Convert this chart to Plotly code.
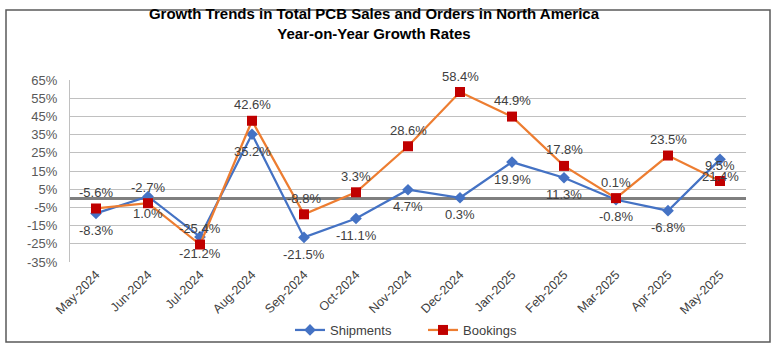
import plotly.graph_objects as go

months = ["May-2024", "Jun-2024", "Jul-2024", "Aug-2024", "Sep-2024", "Oct-2024",
          "Nov-2024", "Dec-2024", "Jan-2025", "Feb-2025", "Mar-2025", "Apr-2025", "May-2025"]
shipments = [-8.3, 1.0, -21.2, 35.2, -21.5, -11.1, 4.7, 0.3, 19.9, 11.3, -0.8, -6.8, 21.4]
bookings = [-5.6, -2.7, -25.4, 42.6, -8.8, 3.3, 28.6, 58.4, 44.9, 17.8, 0.1, 23.5, 9.5]
y_ticks = [-35, -25, -15, -5, 5, 15, 25, 35, 45, 55, 65]
y_tick_labels = [f"{v}%" for v in y_ticks]

W, H = 777, 351
L, R, T, B = 70, 746, 80, 262
pw, ph = R - L, B - T

def px(x):
    return (x - L) / pw

def py(y):
    return (B - y) / ph

fig = go.Figure()
fig.add_trace(go.Scatter(
    x=months, y=shipments, name="Shipments", mode="lines+markers",
    line=dict(color="#4472C4", width=2.25),
    marker=dict(symbol="diamond", size=9, color="#4472C4"),
    cliponaxis=False,
))
fig.add_trace(go.Scatter(
    x=months, y=bookings, name="Bookings", mode="lines+markers",
    line=dict(color="#ED7D31", width=2.25),
    marker=dict(symbol="square", size=10, color="#C00000"),
    cliponaxis=False,
))

lab_font = dict(family="Arial", size=13, color="#404040")
for m, v in zip(months, shipments):
    fig.add_annotation(x=m, y=v, text=f"{v:.1f}%", showarrow=False, yshift=-17,
                       font=lab_font, yanchor="middle")
for m, v in zip(months, bookings):
    fig.add_annotation(x=m, y=v, text=f"{v:.1f}%", showarrow=False, yshift=16,
                       font=lab_font, yanchor="middle")

fig.update_layout(
    width=W, height=H,
    margin=dict(l=L, r=W - R, t=T, b=H - B, autoexpand=False),
    paper_bgcolor="white", plot_bgcolor="white",
    font=dict(family="Arial", size=12, color="#595959"),
    title=dict(
        text="<b>Growth Trends in Total PCB Sales and Orders in North America<br>Year-on-Year Growth Rates</b>",
        x=374 / W, xanchor="center", y=1 - 19 / H, yanchor="top",
        font=dict(family="Arial", size=15, color="#000000"),
    ),
    showlegend=True,
    legend=dict(orientation="h", x=px(423), xanchor="center", y=py(315), yanchor="top",
                font=dict(family="Arial", size=13, color="#404040"),
                bgcolor="rgba(0,0,0,0)", entrywidth=88, entrywidthmode="pixels"),
    xaxis=dict(
        type="category", range=[-0.5, 12.5], tickangle=-45, automargin=False,
        showgrid=False, showline=False, ticks="", ticklabelstandoff=2,
        tickfont=dict(family="Arial", size=12.5, color="#404040"),
    ),
    yaxis=dict(
        range=[-35, 65], tickvals=y_ticks, ticktext=y_tick_labels, automargin=False,
        showgrid=True, gridcolor="#C0C0C0", gridwidth=1,
        showline=True, linecolor="#C0C0C0", linewidth=1,
        zeroline=True, zerolinecolor="#7F7F7F", zerolinewidth=3,
        ticklabelstandoff=9,
        tickfont=dict(family="Arial", size=13, color="#595959"),
    ),
)

fig.add_shape(type="rect", xref="paper", yref="paper",
              x0=px(6), x1=px(770), y0=py(342), y1=py(10),
              line=dict(color="#595959", width=1.5), fillcolor="rgba(0,0,0,0)", layer="below")

fig.write_html("out.html")
